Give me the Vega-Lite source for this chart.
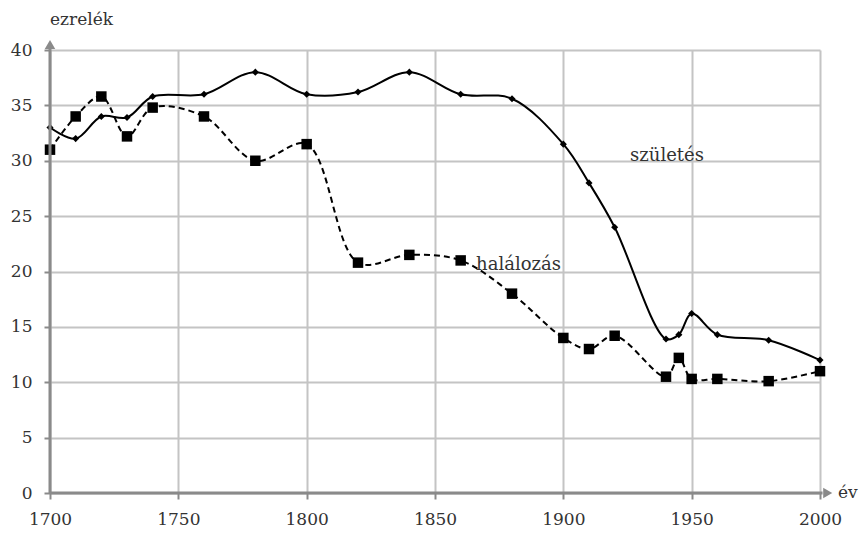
{
  "$schema": "https://vega.github.io/schema/vega-lite/v6.json",
  "width": 770,
  "height": 443,
  "autosize": {"type": "none"},
  "padding": {"left": 50, "top": 50, "right": 41, "bottom": 40},
  "background": "white",
  "config": {"view": {"stroke": null}, "font": "DejaVu Serif", "text": {"font": "DejaVu Serif"}, "axis": {"labelFont": "DejaVu Serif"}},
  "datasets": {
    "rates": [
      {"year": 1700, "rate": 33.0, "series": "születés"},
      {"year": 1710, "rate": 32.0, "series": "születés"},
      {"year": 1720, "rate": 34.0, "series": "születés"},
      {"year": 1730, "rate": 33.9, "series": "születés"},
      {"year": 1740, "rate": 35.8, "series": "születés"},
      {"year": 1760, "rate": 36.0, "series": "születés"},
      {"year": 1780, "rate": 38.0, "series": "születés"},
      {"year": 1800, "rate": 36.0, "series": "születés"},
      {"year": 1820, "rate": 36.2, "series": "születés"},
      {"year": 1840, "rate": 38.0, "series": "születés"},
      {"year": 1860, "rate": 36.0, "series": "születés"},
      {"year": 1880, "rate": 35.6, "series": "születés"},
      {"year": 1900, "rate": 31.5, "series": "születés"},
      {"year": 1910, "rate": 28.0, "series": "születés"},
      {"year": 1920, "rate": 24.0, "series": "születés"},
      {"year": 1940, "rate": 13.9, "series": "születés"},
      {"year": 1945, "rate": 14.3, "series": "születés"},
      {"year": 1950, "rate": 16.2, "series": "születés"},
      {"year": 1960, "rate": 14.3, "series": "születés"},
      {"year": 1980, "rate": 13.8, "series": "születés"},
      {"year": 2000, "rate": 12.0, "series": "születés"},
      {"year": 1700, "rate": 31.0, "series": "halálozás"},
      {"year": 1710, "rate": 34.0, "series": "halálozás"},
      {"year": 1720, "rate": 35.8, "series": "halálozás"},
      {"year": 1730, "rate": 32.2, "series": "halálozás"},
      {"year": 1740, "rate": 34.8, "series": "halálozás"},
      {"year": 1760, "rate": 34.0, "series": "halálozás"},
      {"year": 1780, "rate": 30.0, "series": "halálozás"},
      {"year": 1800, "rate": 31.5, "series": "halálozás"},
      {"year": 1820, "rate": 20.8, "series": "halálozás"},
      {"year": 1840, "rate": 21.5, "series": "halálozás"},
      {"year": 1860, "rate": 21.0, "series": "halálozás"},
      {"year": 1880, "rate": 18.0, "series": "halálozás"},
      {"year": 1900, "rate": 14.0, "series": "halálozás"},
      {"year": 1910, "rate": 13.0, "series": "halálozás"},
      {"year": 1920, "rate": 14.2, "series": "halálozás"},
      {"year": 1940, "rate": 10.5, "series": "halálozás"},
      {"year": 1945, "rate": 12.2, "series": "halálozás"},
      {"year": 1950, "rate": 10.3, "series": "halálozás"},
      {"year": 1960, "rate": 10.3, "series": "halálozás"},
      {"year": 1980, "rate": 10.1, "series": "halálozás"},
      {"year": 2000, "rate": 11.0, "series": "halálozás"}
    ],
    "labels": [
      {"year": 1926, "rate": 30.4, "label": "születés"},
      {"year": 1866, "rate": 20.6, "label": "halálozás"}
    ],
    "axislines": [
      {"x": 1700, "x2": 2001, "y": 0, "y2": 0},
      {"x": 1700, "x2": 1700, "y": 0, "y2": 40.2}
    ],
    "arrows": [
      {"x": 2003, "y": 0, "dir": "right"},
      {"x": 1700, "y": 40.5, "dir": "up"}
    ],
    "titles": [
      {"x": 2007, "y": 0, "label": "év"},
      {"x": 1700, "y": 42.7, "label": "ezrelék"}
    ]
  },
  "layer": [
    {
      "data": {"name": "rates"},
      "transform": [{"filter": "datum.series == 'születés'"}],
      "mark": {"type": "line", "interpolate": "catmull-rom", "color": "black", "strokeWidth": 2},
      "encoding": {
        "x": {
          "field": "year", "type": "quantitative",
          "scale": {"domain": [1700, 2000], "nice": false, "zero": false},
          "axis": {
            "values": [1700, 1750, 1800, 1850, 1900, 1950, 2000],
            "format": "d", "title": null, "grid": true, "gridColor": "#c4c4c4", "gridWidth": 2,
            "domain": false, "ticks": true, "tickColor": "#8a8a8a", "tickWidth": 2, "tickSize": 6,
            "labelFlush": false, "labelOverlap": false,
            "labelFontSize": 17, "labelColor": "#333333", "labelPadding": 12, "labelFont": "DejaVu Serif"
          }
        },
        "y": {
          "field": "rate", "type": "quantitative",
          "scale": {"domain": [0, 40], "nice": false},
          "axis": {
            "values": [0, 5, 10, 15, 20, 25, 30, 35, 40],
            "title": null, "grid": true, "gridColor": "#c4c4c4", "gridWidth": 2,
            "domain": false, "ticks": true, "tickColor": "#8a8a8a", "tickWidth": 2, "tickSize": 6,
            "labelFlush": false, "labelOverlap": false,
            "labelFontSize": 17, "labelColor": "#333333", "labelPadding": 12, "labelFont": "DejaVu Serif"
          }
        }
      }
    },
    {
      "data": {"name": "rates"},
      "transform": [{"filter": "datum.series == 'halálozás'"}],
      "mark": {"type": "line", "interpolate": "catmull-rom", "color": "black", "strokeWidth": 2, "strokeDash": [6, 4]},
      "encoding": {
        "x": {"field": "year", "type": "quantitative"},
        "y": {"field": "rate", "type": "quantitative"}
      }
    },
    {
      "data": {"name": "rates"},
      "transform": [{"filter": "datum.series == 'születés'"}],
      "mark": {"type": "point", "shape": "diamond", "filled": true, "color": "black", "opacity": 1, "size": 50},
      "encoding": {
        "x": {"field": "year", "type": "quantitative"},
        "y": {"field": "rate", "type": "quantitative"}
      }
    },
    {
      "data": {"name": "rates"},
      "transform": [{"filter": "datum.series == 'halálozás'"}],
      "mark": {"type": "square", "filled": true, "color": "black", "opacity": 1, "size": 110},
      "encoding": {
        "x": {"field": "year", "type": "quantitative"},
        "y": {"field": "rate", "type": "quantitative"}
      }
    },
    {
      "data": {"name": "axislines"},
      "mark": {"type": "rule", "color": "#8a8a8a", "strokeWidth": 3},
      "encoding": {
        "x": {"field": "x", "type": "quantitative"},
        "x2": {"field": "x2"},
        "y": {"field": "y", "type": "quantitative"},
        "y2": {"field": "y2"}
      }
    },
    {
      "data": {"name": "arrows"},
      "mark": {"type": "point", "filled": true, "color": "#8a8a8a", "opacity": 1, "size": 110},
      "encoding": {
        "x": {"field": "x", "type": "quantitative"},
        "y": {"field": "y", "type": "quantitative"},
        "shape": {
          "field": "dir", "type": "nominal",
          "scale": {"domain": ["right", "up"], "range": ["triangle-right", "triangle-up"]},
          "legend": null
        }
      }
    },
    {
      "data": {"name": "labels"},
      "mark": {"type": "text", "align": "left", "baseline": "middle", "fontSize": 18, "color": "#333333", "font": "DejaVu Serif"},
      "encoding": {
        "x": {"field": "year", "type": "quantitative"},
        "y": {"field": "rate", "type": "quantitative"},
        "text": {"field": "label"}
      }
    },
    {
      "data": {"name": "titles"},
      "mark": {"type": "text", "align": "left", "baseline": "middle", "fontSize": 17, "color": "#333333", "font": "DejaVu Serif"},
      "encoding": {
        "x": {"field": "x", "type": "quantitative"},
        "y": {"field": "y", "type": "quantitative"},
        "text": {"field": "label"}
      }
    }
  ]
}
